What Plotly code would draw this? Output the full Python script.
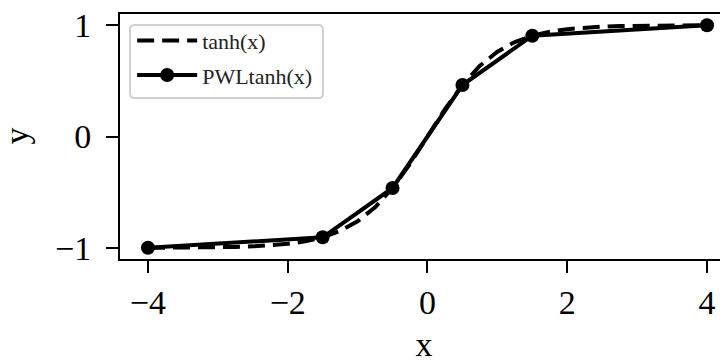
import plotly.graph_objects as go

# tanh(x) curve samples
tanh_x = [-4.0, -3.75, -3.5, -3.25, -3.0, -2.75, -2.5, -2.25, -2.0, -1.75, -1.5, -1.25, -1.0,
          -0.75, -0.5, -0.25, 0.0, 0.25, 0.5, 0.75, 1.0, 1.25, 1.5, 1.75, 2.0, 2.25, 2.5,
          2.75, 3.0, 3.25, 3.5, 3.75, 4.0]
tanh_y = [-0.9993, -0.9989, -0.9982, -0.9970, -0.9951, -0.9919, -0.9866, -0.9780, -0.9640,
          -0.9414, -0.9052, -0.8483, -0.7616, -0.6352, -0.4621, -0.2449, 0.0, 0.2449, 0.4621,
          0.6352, 0.7616, 0.8483, 0.9052, 0.9414, 0.9640, 0.9780, 0.9866, 0.9919, 0.9951,
          0.9970, 0.9982, 0.9989, 0.9993]

# PWLtanh(x) breakpoints
pwl_x = [-4.0, -1.5, -0.5, 0.5, 1.5, 4.0]
pwl_y = [-0.9993, -0.9052, -0.4621, 0.4621, 0.9052, 0.9993]

x_ticks = [-4, -2, 0, 2, 4]
y_ticks = [-1, 0, 1]

FONT = "Liberation Serif"

fig = go.Figure()
fig.add_trace(go.Scatter(x=tanh_x, y=tanh_y, mode="lines", name="tanh(x)",
                         line=dict(color="black", width=4, dash="17px,8px"),
                         legendgroup="a"))
fig.add_trace(go.Scatter(x=pwl_x, y=pwl_y, mode="lines+markers", name="PWLtanh(x)",
                         line=dict(color="black", width=4),
                         marker=dict(color="black", size=14),
                         legendgroup="b"))

# rounded legend frame (paper coords of plot area)
x0, x1, y0, y1 = 0.0164, 0.3339, 0.657, 0.955
rx, ry = 0.008, 0.02
path = (f"M {x0+rx},{y0} L {x1-rx},{y0} Q {x1},{y0} {x1},{y0+ry} "
        f"L {x1},{y1-ry} Q {x1},{y1} {x1-rx},{y1} L {x0+rx},{y1} "
        f"Q {x0},{y1} {x0},{y1-ry} L {x0},{y0+ry} Q {x0},{y0} {x0+rx},{y0} Z")
fig.add_shape(type="path", path=path, xref="paper", yref="paper",
              fillcolor="rgba(255,255,255,0.85)", line=dict(color="#d0d0d0", width=2),
              layer="above")

# y-axis title placed as text beside the axis
fig.add_annotation(text="y", xref="paper", yref="paper", x=-0.171, y=0.5,
                   xanchor="center", yanchor="middle", textangle=-90, showarrow=False,
                   font=dict(family=FONT, size=34, color="black"))

fig.update_layout(
    width=720, height=355,
    margin=dict(l=112, r=0, t=6, b=104),
    paper_bgcolor="white", plot_bgcolor="white",
    font=dict(family=FONT, color="black", size=34),
    showlegend=True,
    legend=dict(x=0.02, y=0.977, xanchor="left", yanchor="top",
                bgcolor="rgba(0,0,0,0)", borderwidth=0,
                font=dict(family=FONT, size=22, color="#222"),
                tracegroupgap=3, itemwidth=60),
    xaxis=dict(range=[-4.4, 4.3], tickvals=x_ticks, ticks="outside", ticklen=12,
               tickwidth=2, tickcolor="black", showline=True, linecolor="black",
               linewidth=2, mirror=True, showgrid=False, zeroline=False,
               automargin=False, ticklabelstandoff=0, ticklabeloverflow="allow",
               title=dict(text="x", standoff=18, font=dict(size=34))),
    yaxis=dict(range=[-1.1, 1.1], tickvals=y_ticks, ticks="outside", ticklen=12,
               tickwidth=2, tickcolor="black", showline=True, linecolor="black",
               linewidth=2, mirror=False, showgrid=False, zeroline=False,
               automargin=False, ticklabelstandoff=8, ticklabeloverflow="allow"),
)

fig.write_html("out.html")
